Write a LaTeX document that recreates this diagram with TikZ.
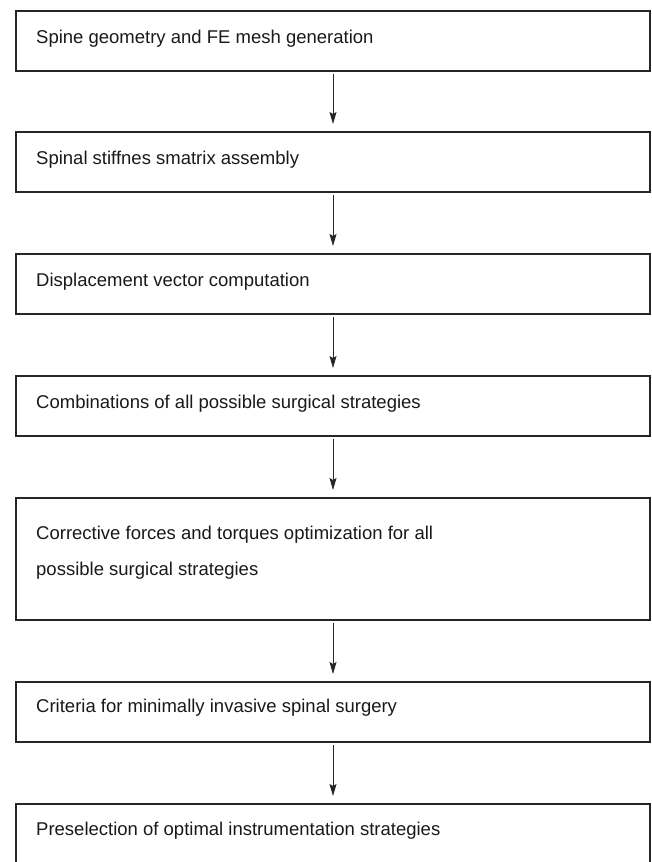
\documentclass[tikz,border=0pt]{standalone}
\usepackage{fontspec}
\setmainfont{Liberation Sans}
\usetikzlibrary{arrows.meta}
\begin{document}
\begin{tikzpicture}[x=1pt,y=-1pt,
  stepbox/.style={draw=black!85, line width=1.1pt, minimum width=634pt, anchor=north west, inner sep=0pt, outer sep=0pt},
  lbl/.style={anchor=base west, font=\fontsize{18.5}{36}\selectfont, text=black!90, inner sep=0pt},
  flow/.style={-{Stealth[length=12pt,width=7pt,inset=2pt]}, line width=0.8pt, draw=black!85}]
\useasboundingbox (0,0) rectangle (651,862);
\node[stepbox, minimum height=60pt] (b1) at (16,11) {};
\node[stepbox, minimum height=60pt] (b2) at (16,132) {};
\node[stepbox, minimum height=60pt] (b3) at (16,254) {};
\node[stepbox, minimum height=60pt] (b4) at (16,376) {};
\node[stepbox, minimum height=122pt] (b5) at (16,498) {};
\node[stepbox, minimum height=60pt] (b6) at (16,682) {};
\node[stepbox, minimum height=60pt] (b7) at (16,804) {};
\node[lbl] (t1) at (36,43) {Spine geometry and FE mesh generation};
\node[lbl] (t2) at (36,164) {Spinal stiffnes smatrix assembly};
\node[lbl] (t3) at (36,286) {Displacement vector computation};
\node[lbl] (t4) at (36,408) {Combinations of all possible surgical strategies};
\node[lbl] (t5a) at (36,539) {Corrective forces and torques optimization for all};
\node[lbl] (t5b) at (36,575) {possible surgical strategies};
\node[lbl] (t6) at (36,712) {Criteria for minimally invasive spinal surgery};
\node[lbl] (t7) at (36,835) {Preselection of optimal instrumentation strategies};
\draw[flow] ([yshift=-3pt]b1.south) -- ([yshift=8pt]b2.north);
\draw[flow] ([yshift=-3pt]b2.south) -- ([yshift=8pt]b3.north);
\draw[flow] ([yshift=-3pt]b3.south) -- ([yshift=8pt]b4.north);
\draw[flow] ([yshift=-3pt]b4.south) -- ([yshift=8pt]b5.north);
\draw[flow] ([yshift=-3pt]b5.south) -- ([yshift=8pt]b6.north);
\draw[flow] ([yshift=-3pt]b6.south) -- ([yshift=8pt]b7.north);
\end{tikzpicture}
\end{document}
